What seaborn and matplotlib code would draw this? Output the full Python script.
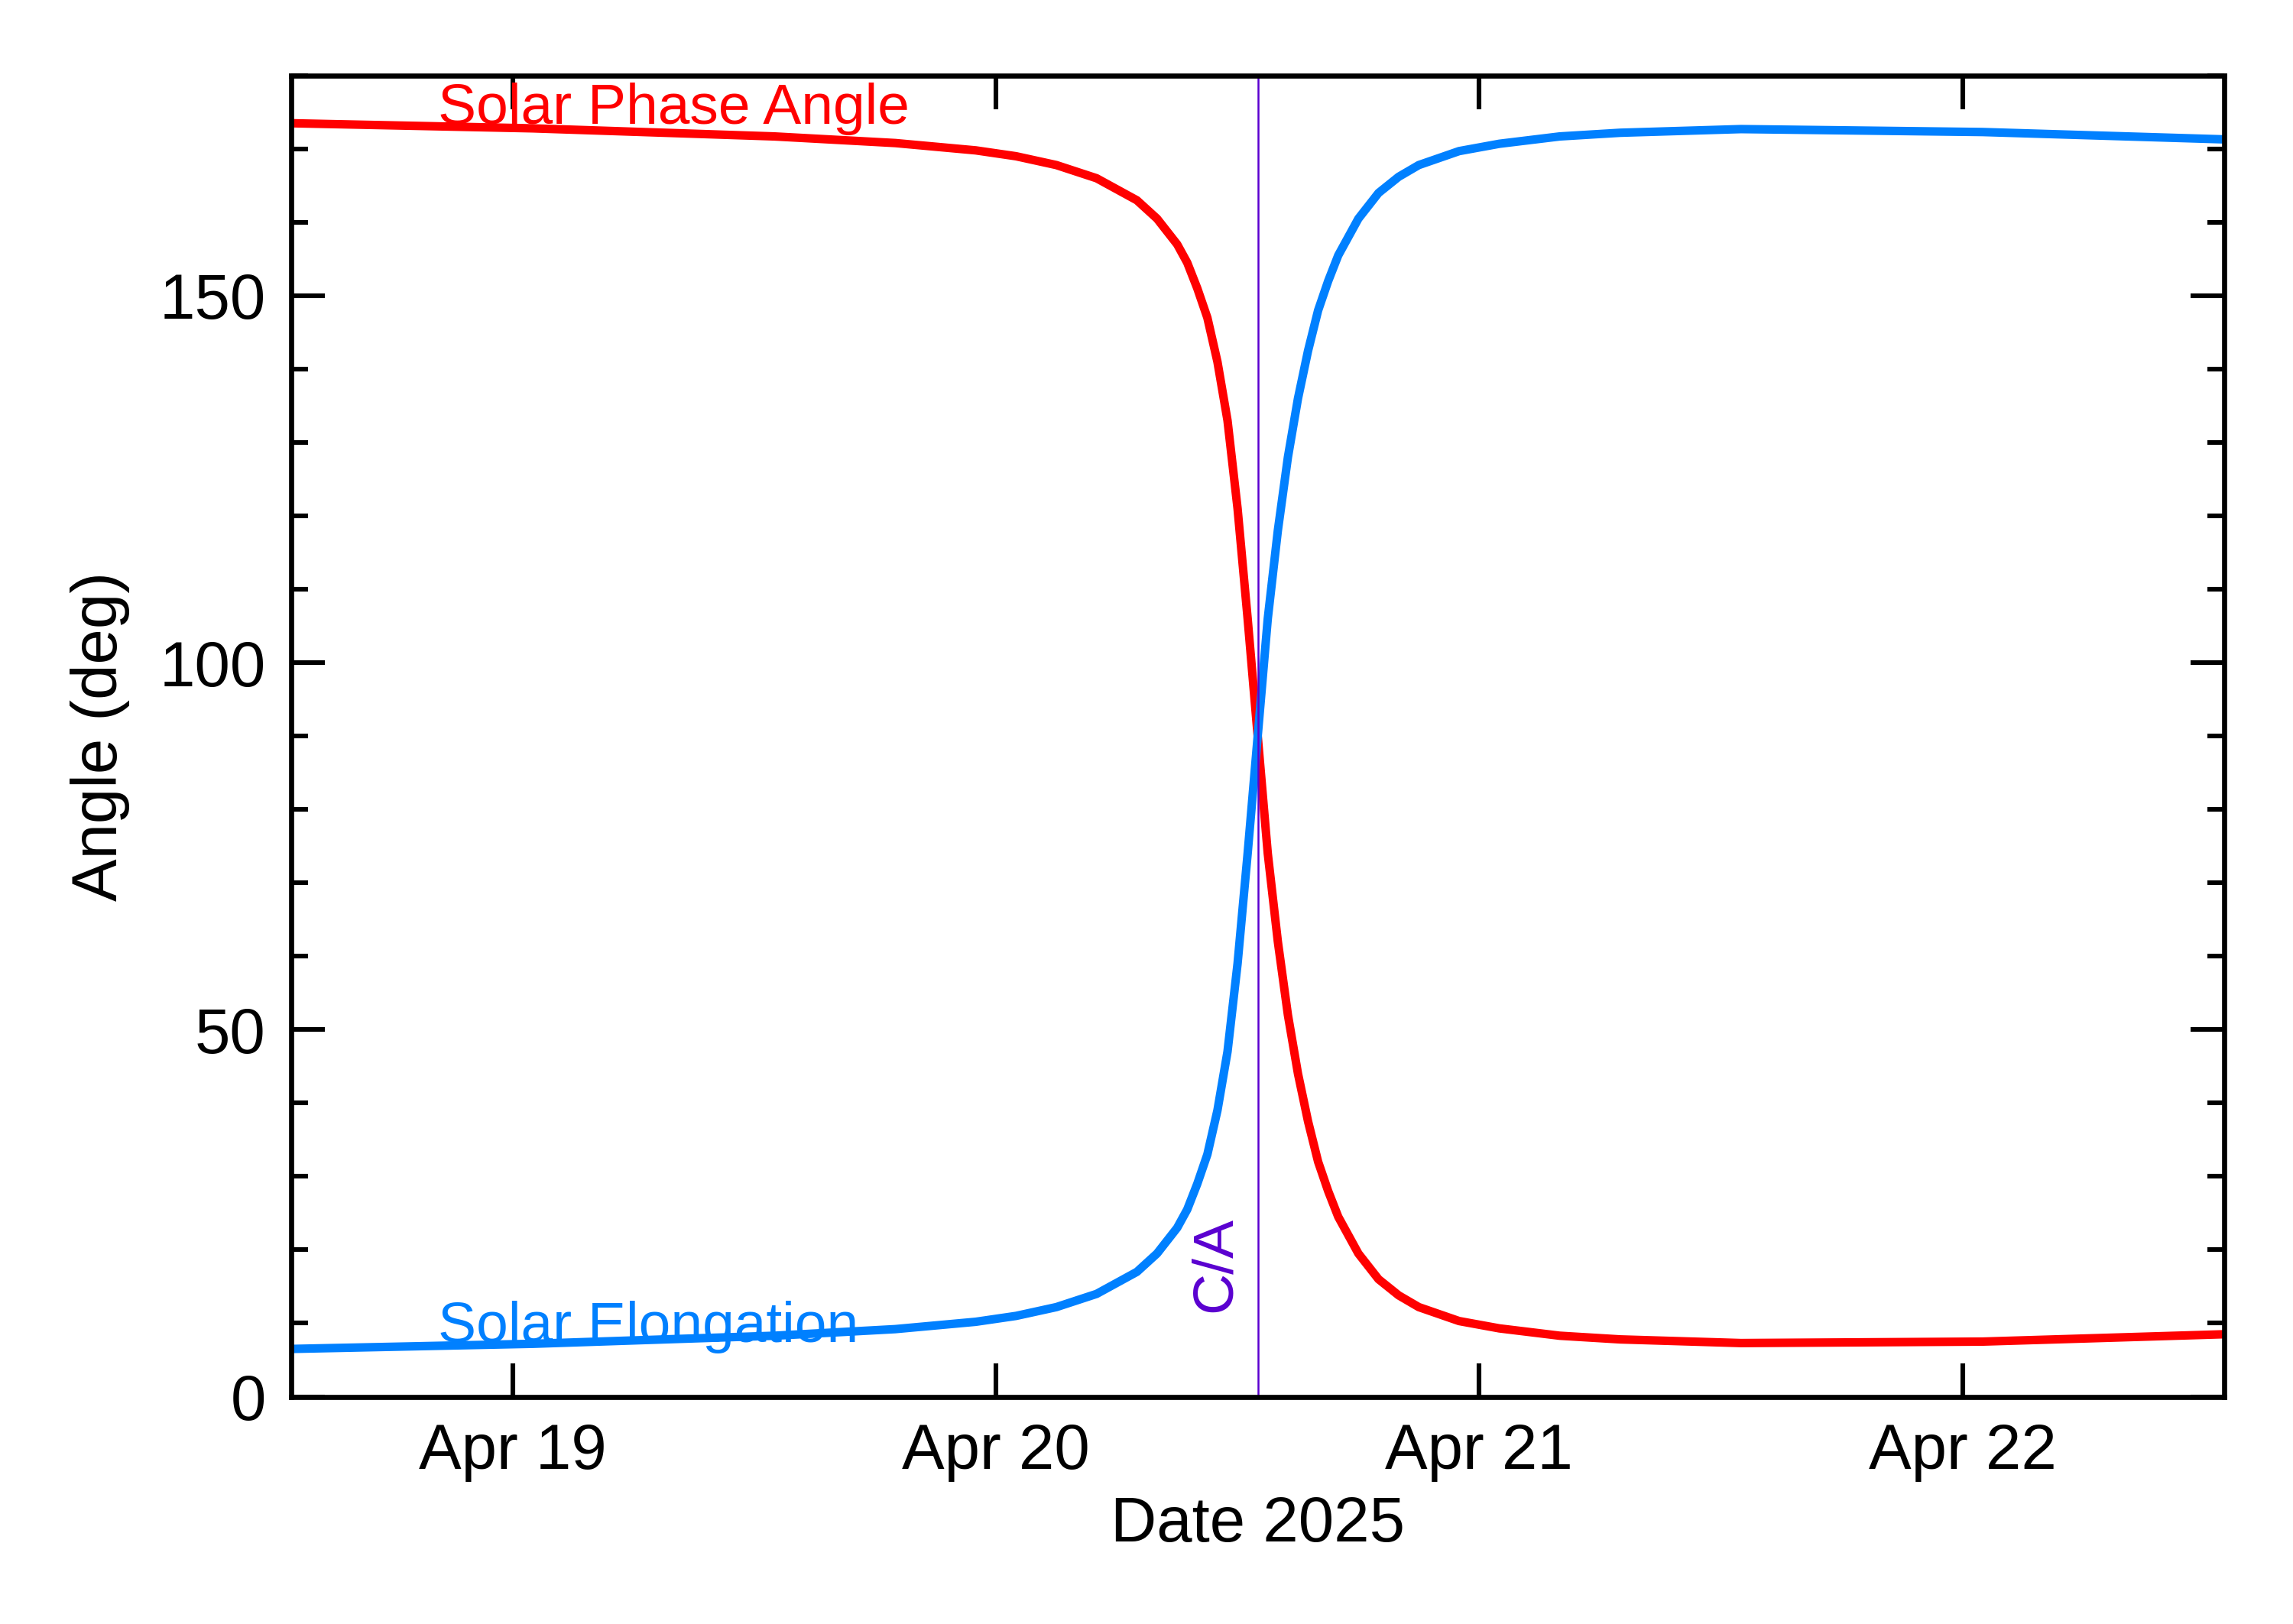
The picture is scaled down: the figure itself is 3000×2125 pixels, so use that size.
import numpy as np, pandas as pd
import matplotlib
matplotlib.use("Agg")
import matplotlib.pyplot as plt
import matplotlib.dates as mdates
import seaborn as sns

start = pd.Timestamp("2025-04-18 13:00")
ca_time = pd.Timestamp("2025-04-20 13:00")

phase_hours = [0, 12, 24, 30, 34, 36, 38, 40, 41, 42, 43, 44, 44.5, 45, 45.5, 46, 46.5, 47, 47.5, 48, 48.5, 49, 49.5, 50, 50.5, 51, 51.5, 52, 53, 54, 55, 56, 58, 60, 63, 66, 72, 84, 96]
phase_vals = [173.5, 172.8, 171.7, 170.8, 169.8, 169, 167.8, 166, 164.5, 163, 160.5, 157, 154.5, 151, 147, 141, 133, 121, 106, 90, 74, 62, 52, 44, 37.5, 32, 28, 24.5, 19.5, 16, 13.8, 12.2, 10.3, 9.3, 8.3, 7.8, 7.3, 7.5, 8.5]
elong_hours = phase_hours
elong_vals = [6.5, 7.2, 8.3, 9.2, 10.2, 11, 12.2, 14, 15.5, 17, 19.5, 23, 25.5, 29, 33, 39, 47, 59, 74, 90, 106, 118, 128, 136, 142.5, 148, 152, 155.5, 160.5, 164, 166.2, 167.8, 169.7, 170.7, 171.7, 172.2, 172.7, 172.3, 171.3]

plt.rcParams["font.family"] = "Liberation Sans"
fig = plt.figure(figsize=(15, 10.625), dpi=200)
ax = fig.add_axes([0.127, 0.14, 0.843, 0.8135])

dfp = pd.DataFrame({"t": start + pd.to_timedelta(phase_hours, unit="h"), "v": phase_vals})
dfe = pd.DataFrame({"t": start + pd.to_timedelta(elong_hours, unit="h"), "v": elong_vals})
sns.lineplot(data=dfp, x="t", y="v", ax=ax, color="#ff0000", lw=4)
sns.lineplot(data=dfe, x="t", y="v", ax=ax, color="#0080ff", lw=4)
ax.axvline(ca_time, color="#5a00d0", lw=0.9)

ax.set_xlim(start, start + pd.Timedelta(hours=96))
ax.set_ylim(0, 180)
ax.xaxis.set_major_locator(mdates.DayLocator())
ax.xaxis.set_major_formatter(mdates.DateFormatter("%b %d"))
ax.set_yticks([0, 50, 100, 150])
ax.set_yticks(np.arange(0, 181, 10), minor=True)
ax.tick_params(which="both", direction="in", top=True, right=True, labelsize=30, width=2.2, pad=12)
ax.tick_params(which="major", length=16)
ax.tick_params(which="minor", length=8)
for s in ax.spines.values():
    s.set_linewidth(2.4)
ax.set_xlabel("Date 2025", fontsize=30, labelpad=6)
ax.set_ylabel("Angle (deg)", fontsize=30, labelpad=14)

ax.text(start + pd.Timedelta(hours=7.3), 175.5, "Solar Phase Angle", color="#ff0000", fontsize=27, va="center")
ax.text(start + pd.Timedelta(hours=7.3), 9.5, "Solar Elongation", color="#0080ff", fontsize=27, va="center")
ax.text(start + pd.Timedelta(hours=45.9), 18, "C/A", color="#5a00d0", fontsize=27, rotation=90, ha="center", va="center")

fig.savefig("out.png")
